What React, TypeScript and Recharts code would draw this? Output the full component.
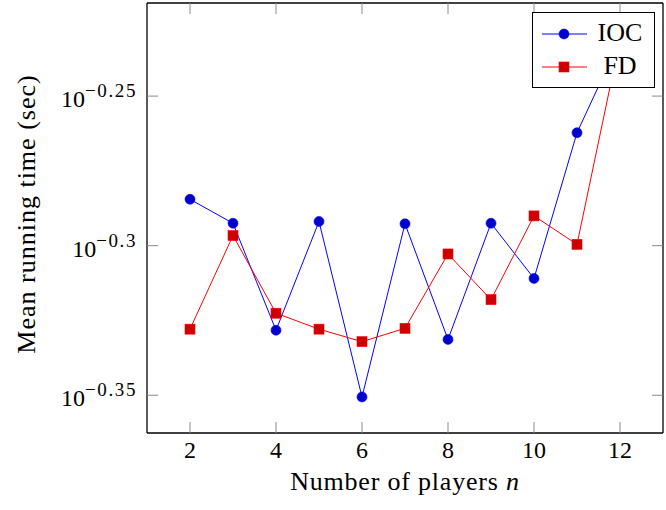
import { Line, LineChart, XAxis, YAxis } from 'recharts'

// mean running time (sec)
const players = [2, 3, 4, 5, 6, 7, 8, 9, 10, 11, 12]
const iocTimes = [0.5194, 0.5099, 0.4696, 0.5106, 0.4461, 0.5097, 0.4663, 0.5099, 0.4887, 0.5467, 0.5871]
const fdTimes = [0.47, 0.5051, 0.4758, 0.47, 0.4655, 0.4703, 0.498, 0.4808, 0.5128, 0.5017, 0.5874]

const xTicks = [2, 4, 6, 8, 10, 12]
const yTicks = [0.44668, 0.50119, 0.56234]
const yTickExponents = ['−0.35', '−0.3', '−0.25']

const data = players.map((n, i) => ({ n, ioc: iocTimes[i], fd: fdTimes[i] }))

const W = 666
const H = 510
const PLOT_LEFT = 147
const PLOT_RIGHT = 663
const PLOT_TOP = 3
const PLOT_BOTTOM = 433
const TICK_LEN = 11
const FONT = '"Liberation Serif", "Times New Roman", serif'
const TICK_COLOR = '#8a8a8a'

const IOC_LINE = '#0000ff'
const IOC_MARK = '#0000cc'
const FD_LINE = '#ff0000'
const FD_MARK = '#cc0000'

function BottomTick({ x, payload }: any) {
    return (
        <g>
            <line x1={x} y1={PLOT_BOTTOM} x2={x} y2={PLOT_BOTTOM - TICK_LEN} stroke={TICK_COLOR} strokeWidth={1} />
            <text x={x} y={458} textAnchor="middle" fontSize={24} fontFamily={FONT} fill="#000">
                {payload.value}
            </text>
        </g>
    )
}

function TopTick({ x }: any) {
    return <line x1={x} y1={PLOT_TOP} x2={x} y2={PLOT_TOP + TICK_LEN} stroke={TICK_COLOR} strokeWidth={1} />
}

function LeftTick({ y, payload }: any) {
    const idx = yTicks.findIndex(t => Math.abs(t - payload.value) < 1e-4)
    return (
        <g>
            <line x1={PLOT_LEFT} y1={y} x2={PLOT_LEFT + TICK_LEN} y2={y} stroke={TICK_COLOR} strokeWidth={1} />
            <text x={137} y={y + 11} textAnchor="end" fontFamily={FONT} fill="#000">
                <tspan fontSize={24}>10</tspan>
                <tspan fontSize={19} dy={-10} letterSpacing={1.6}>
                    {yTickExponents[idx]}
                </tspan>
            </text>
        </g>
    )
}

function RightTick({ y }: any) {
    return <line x1={PLOT_RIGHT} y1={y} x2={PLOT_RIGHT - TICK_LEN} y2={y} stroke={TICK_COLOR} strokeWidth={1} />
}

function XTitle() {
    return (
        <text
            x={(PLOT_LEFT + PLOT_RIGHT) / 2}
            y={490}
            textAnchor="middle"
            fontSize={26}
            letterSpacing={0.8}
            fontFamily={FONT}
            fill="#000"
        >
            Number of players <tspan fontStyle="italic">n</tspan>
        </text>
    )
}

function YTitle() {
    const cy = 214
    return (
        <text
            x={35}
            y={cy}
            transform={`rotate(-90 35 ${cy})`}
            textAnchor="middle"
            fontSize={26}
            letterSpacing={1}
            fontFamily={FONT}
            fill="#000"
        >
            Mean running time (sec)
        </text>
    )
}

function LegendBox() {
    const rows = [
        { label: 'IOC', line: IOC_LINE, mark: IOC_MARK, shape: 'circle' },
        { label: 'FD', line: FD_LINE, mark: FD_MARK, shape: 'square' },
    ]
    return (
        <div
            style={{
                position: 'absolute',
                left: 532,
                top: 12,
                width: 123,
                height: 76,
                boxSizing: 'border-box',
                border: '1.3px solid #000',
                background: '#fff',
            }}
        >
            {rows.map((r, i) => (
                <div key={r.label}>
                    <svg width={50} height={16} style={{ position: 'absolute', left: 7, top: 13 + i * 33 }}>
                        <line x1={2} y1={8} x2={47} y2={8} stroke={r.line} strokeWidth={1} />
                        {r.shape === 'circle' ? (
                            <circle cx={24} cy={8} r={5} fill={r.mark} stroke={r.line} strokeWidth={0.6} />
                        ) : (
                            <rect x={19} y={3} width={10} height={10} fill={r.mark} stroke={r.line} strokeWidth={0.6} />
                        )}
                    </svg>
                    <div
                        style={{
                            position: 'absolute',
                            left: 57,
                            width: 60,
                            top: 5 + i * 33,
                            textAlign: 'center',
                            fontFamily: FONT,
                            fontSize: 26,
                            lineHeight: '30px',
                            color: '#000',
                        }}
                    >
                        {r.label}
                    </div>
                </div>
            ))}
        </div>
    )
}

export default function App() {
    const domain: [number, number] = [0.4339, 0.6041]
    return (
        <div style={{ position: 'absolute', left: 0, top: 0, width: W, height: H, background: '#fff' }}>
            <LineChart width={W} height={H} data={data} margin={{ top: 0, right: 0, bottom: 0, left: 0 }}>
                <XAxis
                    dataKey="n"
                    type="number"
                    domain={[1, 13]}
                    ticks={xTicks}
                    interval={0}
                    height={H - PLOT_BOTTOM}
                    axisLine={{ stroke: '#000', strokeWidth: 1.3 }}
                    tickLine={false}
                    tick={<BottomTick />}
                    label={<XTitle />}
                />
                <XAxis
                    xAxisId="top"
                    orientation="top"
                    dataKey="n"
                    type="number"
                    domain={[1, 13]}
                    ticks={xTicks}
                    interval={0}
                    height={PLOT_TOP}
                    axisLine={{ stroke: '#000', strokeWidth: 1.3 }}
                    tickLine={false}
                    tick={<TopTick />}
                />
                <YAxis
                    type="number"
                    scale="log"
                    domain={domain}
                    allowDataOverflow
                    ticks={yTicks}
                    interval={0}
                    width={PLOT_LEFT}
                    axisLine={{ stroke: '#000', strokeWidth: 1.3 }}
                    tickLine={false}
                    tick={<LeftTick />}
                    label={<YTitle />}
                />
                <YAxis
                    yAxisId="right"
                    orientation="right"
                    type="number"
                    scale="log"
                    domain={domain}
                    allowDataOverflow
                    ticks={yTicks}
                    interval={0}
                    width={W - PLOT_RIGHT}
                    axisLine={{ stroke: '#000', strokeWidth: 1.3 }}
                    tickLine={false}
                    tick={<RightTick />}
                />
                <Line
                    dataKey="ioc"
                    stroke={IOC_LINE}
                    strokeWidth={1}
                    dot={{ r: 5, fill: IOC_MARK, stroke: IOC_LINE, strokeWidth: 0.6 }}
                    activeDot={false}
                    isAnimationActive={false}
                />
                <Line
                    dataKey="fd"
                    stroke={FD_LINE}
                    strokeWidth={1}
                    dot={(props: any) => (
                        <rect
                            key={`fd-${props.index}`}
                            x={props.cx - 5}
                            y={props.cy - 5}
                            width={10}
                            height={10}
                            fill={FD_MARK}
                            stroke={FD_LINE}
                            strokeWidth={0.6}
                        />
                    )}
                    activeDot={false}
                    isAnimationActive={false}
                />
            </LineChart>
            <LegendBox />
        </div>
    )
}
